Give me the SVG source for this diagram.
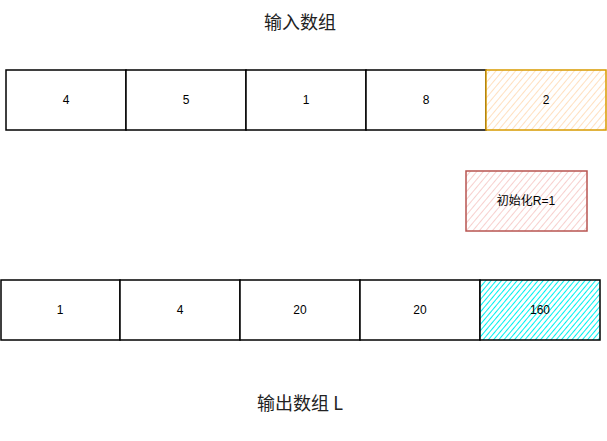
<svg xmlns="http://www.w3.org/2000/svg" width="607" height="441" viewBox="0 0 607 441">
<style>
.box{fill:#fff;stroke:#000;stroke-width:1.5}
.t{font-family:"Liberation Sans",Arial,sans-serif;font-size:12px;fill:#000;text-anchor:middle;dominant-baseline:central}
.title{font-family:"Noto Sans CJK SC","Liberation Sans",sans-serif;font-size:18px;fill:#222;text-anchor:middle;dominant-baseline:central}
</style>
<defs>
<pattern id="hO" width="5" height="5" patternUnits="userSpaceOnUse" patternTransform="rotate(40)">
<rect width="5" height="5" fill="#fff"/><line x1="0" y1="0" x2="0" y2="5" stroke="#ffd8b0" stroke-width="1.6"/>
</pattern>
<pattern id="hR" width="5" height="5" patternUnits="userSpaceOnUse" patternTransform="rotate(40)">
<rect width="5" height="5" fill="#fff"/><line x1="0" y1="0" x2="0" y2="5" stroke="#f5c4c2" stroke-width="1.6"/>
</pattern>
<pattern id="hC" width="4" height="4" patternUnits="userSpaceOnUse" patternTransform="rotate(40)">
<rect width="4" height="4" fill="#fff"/><line x1="0" y1="0" x2="0" y2="4" stroke="#00f0f0" stroke-width="2"/>
</pattern>
</defs>
<text class="title" x="300" y="21">输入数组</text>
<text class="title" x="300" y="402">输出数组 L</text>
<g id="in0"><rect class="box" x="6" y="70" width="120" height="60"/><text class="t" x="66" y="100">4</text></g>
<g id="in1"><rect class="box" x="126" y="70" width="120" height="60"/><text class="t" x="186" y="100">5</text></g>
<g id="in2"><rect class="box" x="246" y="70" width="120" height="60"/><text class="t" x="306" y="100">1</text></g>
<g id="in3"><rect class="box" x="366" y="70" width="120" height="60"/><text class="t" x="426" y="100">8</text></g>
<g id="in4"><rect x="486" y="70" width="120" height="60" fill="url(#hO)" stroke="#d79b00" stroke-width="1.5"/><text class="t" x="546" y="100">2</text></g>
<g id="initR"><rect x="466" y="171" width="121" height="60" fill="url(#hR)" stroke="#b85450" stroke-width="1.5"/><text class="t" x="526" y="201" style="font-family:'Liberation Sans','Noto Sans CJK SC',sans-serif;font-size:12px">初始化R=1</text></g>
<g id="out0"><rect class="box" x="1" y="280" width="119" height="60"/><text class="t" x="60" y="310">1</text></g>
<g id="out1"><rect class="box" x="120" y="280" width="120" height="60"/><text class="t" x="180" y="310">4</text></g>
<g id="out2"><rect class="box" x="240" y="280" width="120" height="60"/><text class="t" x="300" y="310">20</text></g>
<g id="out3"><rect class="box" x="360" y="280" width="120" height="60"/><text class="t" x="420" y="310">20</text></g>
<g id="out4"><rect x="480" y="280" width="120" height="60" fill="url(#hC)" stroke="#000" stroke-width="1.5"/><text class="t" x="540" y="310">160</text></g>
<g id="connectors"></g>
</svg>
